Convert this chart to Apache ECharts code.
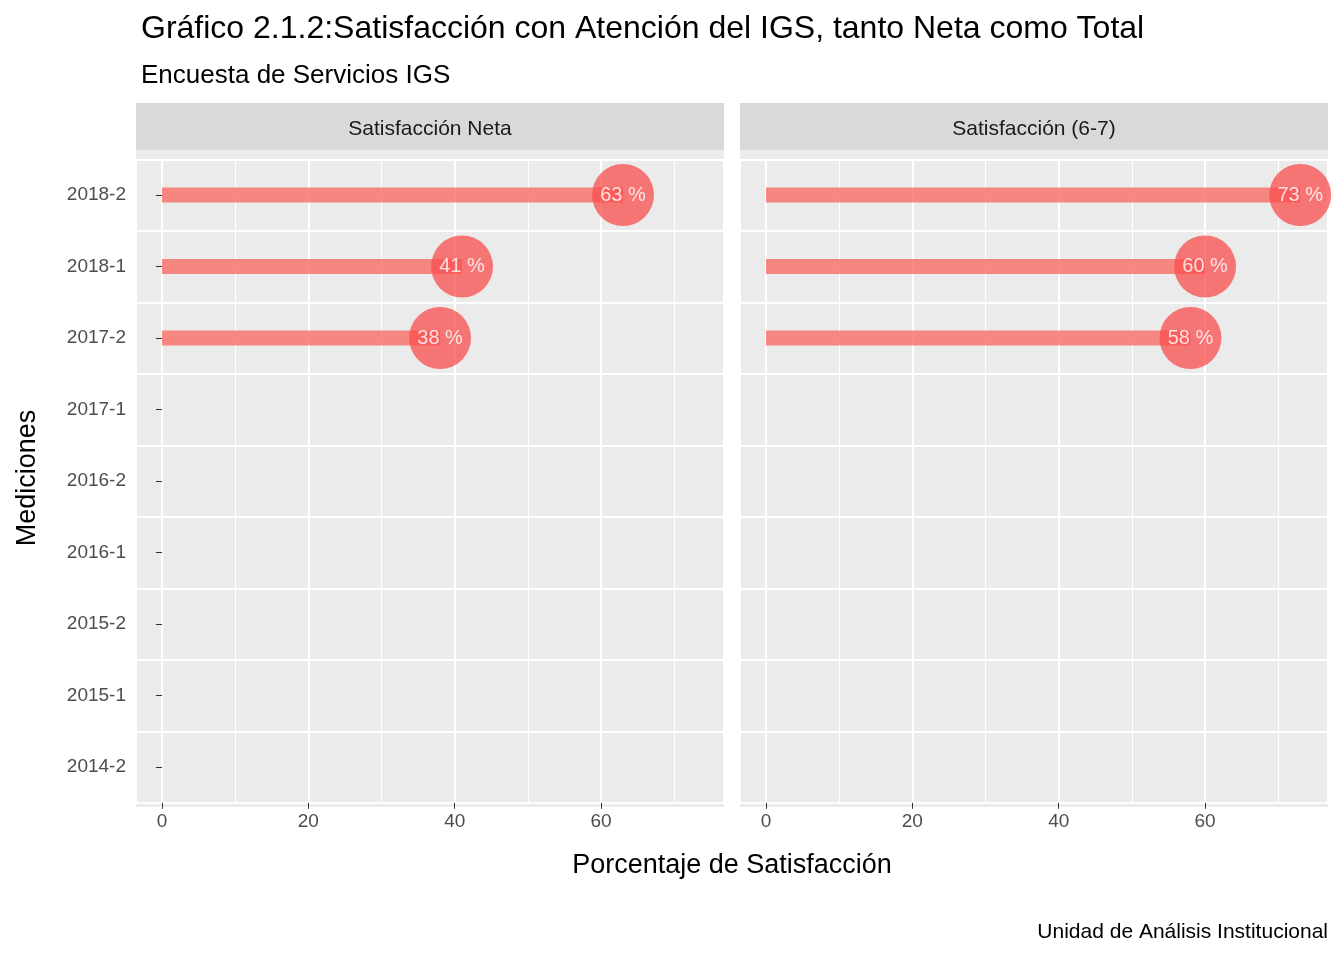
<!DOCTYPE html><html><head><meta charset="utf-8">
<script src="https://cdn.jsdelivr.net/npm/echarts@6/dist/echarts.min.js"></script>
<style>html,body{margin:0;padding:0;background:#fff}#c{width:1344px;height:960px}</style></head><body><div id="c"></div>
<script>
const categories=['2014-2','2015-1','2015-2','2016-1','2016-2','2017-1','2017-2','2018-1','2018-2'];
const neta=[null,null,null,null,null,null,38,41,63];
const total=[null,null,null,null,null,null,58,60,73];
const panels=['Satisfacción Neta','Satisfacción (6-7)'];
const chart=echarts.init(document.getElementById('c'));
const F='Arial, Liberation Sans, sans-serif';
function xAxis(i){return {gridIndex:i,type:'value',min:-3.55,max:76.8,splitNumber:4,
 axisLine:{show:false},axisTick:{show:true,length:6,lineStyle:{color:'#333'}},
 axisLabel:{color:'#4d4d4d',fontSize:19,fontFamily:F,margin:10,showMinLabel:false,showMaxLabel:false},
 splitLine:{show:true,lineStyle:{color:'#fff',width:2}},
 minorTick:{show:false,splitNumber:2},minorSplitLine:{show:true,lineStyle:{color:'#fff',width:1}}};}
function yAxis(i){return {gridIndex:i,type:'category',data:categories,
 axisLine:{show:false},axisTick:{show:i===0,length:6,alignWithLabel:true,lineStyle:{color:'#333'}},
 axisLabel:{show:i===0,color:'#4d4d4d',fontSize:19,fontFamily:F,margin:10},
 splitLine:{show:true,interval:0,lineStyle:{color:'#fff',width:2}}};}
function series(i,d){return [
 {type:'bar',xAxisIndex:i,yAxisIndex:i,data:d,barWidth:15,itemStyle:{color:'rgba(248,118,109,0.85)'},silent:true},
 {type:'scatter',xAxisIndex:i,yAxisIndex:i,data:d.map((v,k)=>v==null?null:[v,k]),symbolSize:62,
  itemStyle:{color:'rgba(248,80,80,0.95)'},
  label:{show:true,position:'inside',color:'#fff',fontSize:20,fontFamily:F,formatter:p=>p.value[0]+' %'}}];}
chart.setOption({
 animation:false,
 title:[{text:'Gráfico 2.1.2:Satisfacción con Atención del IGS, tanto Neta como Total',left:136,top:8,textStyle:{fontSize:32,fontWeight:'normal',color:'#000',fontFamily:F}},
  {text:'Encuesta de Servicios IGS',left:136,top:58,textStyle:{fontSize:26,fontWeight:'normal',color:'#000',fontFamily:F}}],
 graphic:[
  {type:'rect',shape:{x:136,y:150,width:588,height:657},style:{fill:'#EBEBEB'},z:-10},
  {type:'rect',shape:{x:740,y:150,width:588,height:657},style:{fill:'#EBEBEB'},z:-10},
  {type:'rect',shape:{x:136,y:103,width:588,height:47},style:{fill:'#D9D9D9'}},
  {type:'rect',shape:{x:740,y:103,width:588,height:47},style:{fill:'#D9D9D9'}},
  {type:'text',x:430,y:129,style:{text:panels[0],fontSize:21,fill:'#1a1a1a',fontFamily:F,align:'center',verticalAlign:'middle'}},
  {type:'text',x:1034,y:129,style:{text:panels[1],fontSize:21,fill:'#1a1a1a',fontFamily:F,align:'center',verticalAlign:'middle'}},
  {type:'text',x:732,y:866,style:{text:'Porcentaje de Satisfacción',fontSize:27,fill:'#000',fontFamily:F,align:'center',verticalAlign:'middle'}},
  {type:'text',x:28,y:478,rotation:Math.PI/2,style:{text:'Mediciones',fontSize:27,fill:'#000',fontFamily:F,align:'center',verticalAlign:'middle'}},
  {type:'text',x:1328,y:932,style:{text:'Unidad de Análisis Institucional',fontSize:21,fill:'#000',fontFamily:F,align:'right',verticalAlign:'middle'}}
 ],
 grid:[{left:136,width:588,top:159.25,height:643.5},{left:740,width:588,top:159.25,height:643.5}],
 xAxis:[xAxis(0),xAxis(1)],
 yAxis:[yAxis(0),yAxis(1)],
 series:[...series(0,neta),...series(1,total)]
});
</script></body></html>
